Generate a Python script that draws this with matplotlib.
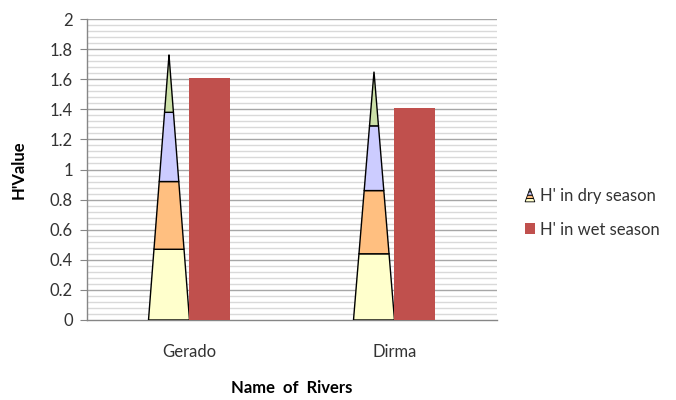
import matplotlib
matplotlib.use("Agg")
import matplotlib.pyplot as plt
from matplotlib.patches import Polygon, Rectangle
from matplotlib.legend_handler import HandlerBase
import numpy as np

plt.rcParams['font.family'] = ['Lato', 'DejaVu Sans']

rivers = ["Gerado", "Dirma"]
# Dry-season H' shown as a stacked cone (four stacked components per river)
dry_parts = [
    [0.47, 0.45, 0.46, 0.38],  # Gerado
    [0.44, 0.42, 0.43, 0.36],  # Dirma
]
wet_values = [1.61, 1.41]
yticks = [0, 0.2, 0.4, 0.6, 0.8, 1, 1.2, 1.4, 1.6, 1.8, 2]
ytick_labels = ["0", "0.2", "0.4", "0.6", "0.8", "1", "1.2", "1.4", "1.6", "1.8", "2"]

cone_colors = ["#FFFFCC", "#FFBF80", "#CCCCFF", "#CCE0A8"]
wet_color = "#C0504D"
bar_w = 0.2

fig = plt.figure(figsize=(6.76, 4.0), dpi=100)
ax = fig.add_axes([0.1287, 0.2, 0.6065, 0.7525])

x = np.arange(len(rivers))

# Gridlines: major every 0.2, minor every 0.04
for v in np.arange(0.04, 2.001, 0.04):
    is_major = abs(v / 0.2 - round(v / 0.2)) < 1e-6
    ax.axhline(v, color="#A6A6A6" if is_major else "#D9D9D9",
               lw=1.0, zorder=0)


def draw_cone(axis, cx, half_w, parts, colors, zorder=3):
    total = sum(parts)
    base = 0.0
    for val, col in zip(parts, colors):
        top = base + val
        hw0 = half_w * (1 - base / total)
        hw1 = half_w * (1 - top / total)
        poly = Polygon([(cx - hw0, base), (cx + hw0, base),
                        (cx + hw1, top), (cx - hw1, top)],
                       closed=True, facecolor=col, edgecolor="black",
                       lw=1.0, zorder=zorder)
        axis.add_patch(poly)
        base = top


for i, parts in enumerate(dry_parts):
    draw_cone(ax, x[i] - bar_w / 2, bar_w / 2, parts, cone_colors)

bars = ax.bar(x + bar_w / 2, wet_values, width=bar_w, color=wet_color,
              zorder=3, label="H' in wet season")

ax.set_xlim(-0.5, 1.5)
ax.set_ylim(0, 2)
ax.set_yticks(yticks)
ax.set_yticklabels(ytick_labels)
ax.set_xticks(x)
ax.set_xticklabels(rivers)
ax.tick_params(axis="y", length=5, color="#868686", labelsize=12,
               labelcolor="#333333", pad=5)
ax.tick_params(axis="x", length=0, labelsize=12, labelcolor="#333333", pad=17)

for s in ["top", "right"]:
    ax.spines[s].set_visible(False)
for s in ["left", "bottom"]:
    ax.spines[s].set_color("#868686")
    ax.spines[s].set_linewidth(1.0)

ax.set_ylabel("H'Value", fontsize=12, fontweight="bold", labelpad=17)
ax.set_xlabel("Name  of  Rivers", fontsize=12, fontweight="bold", labelpad=15)


class ConeHandler(HandlerBase):
    def create_artists(self, legend, orig_handle, xdescent, ydescent,
                       width, height, fontsize, trans):
        artists = []
        cx = width / 2 - xdescent
        hw = 3.5
        h = height + 2
        y0 = -ydescent - 1
        fracs = [0.25, 0.25, 0.25, 0.25]
        base = 0.0
        for f, col in zip(fracs, cone_colors):
            top = base + f
            p = Polygon([(cx - hw * (1 - base), y0 + h * base),
                         (cx + hw * (1 - base), y0 + h * base),
                         (cx + hw * (1 - top), y0 + h * top),
                         (cx - hw * (1 - top), y0 + h * top)],
                        closed=True, facecolor=col, edgecolor="black",
                        lw=0.6, transform=trans)
            artists.append(p)
            base = top
        return artists


cone_handle = Rectangle((0, 0), 1, 1)
leg = fig.legend([cone_handle, bars], ["H' in dry season", "H' in wet season"],
                 handler_map={cone_handle: ConeHandler()},
                 loc="center left", bbox_to_anchor=(0.755, 0.468),
                 frameon=False, fontsize=12, handlelength=0.55,
                 handleheight=0.6, handletextpad=0.35, labelspacing=1.05)
for t in leg.get_texts():
    t.set_color("#333333")

fig.savefig("out.png", dpi=100)
